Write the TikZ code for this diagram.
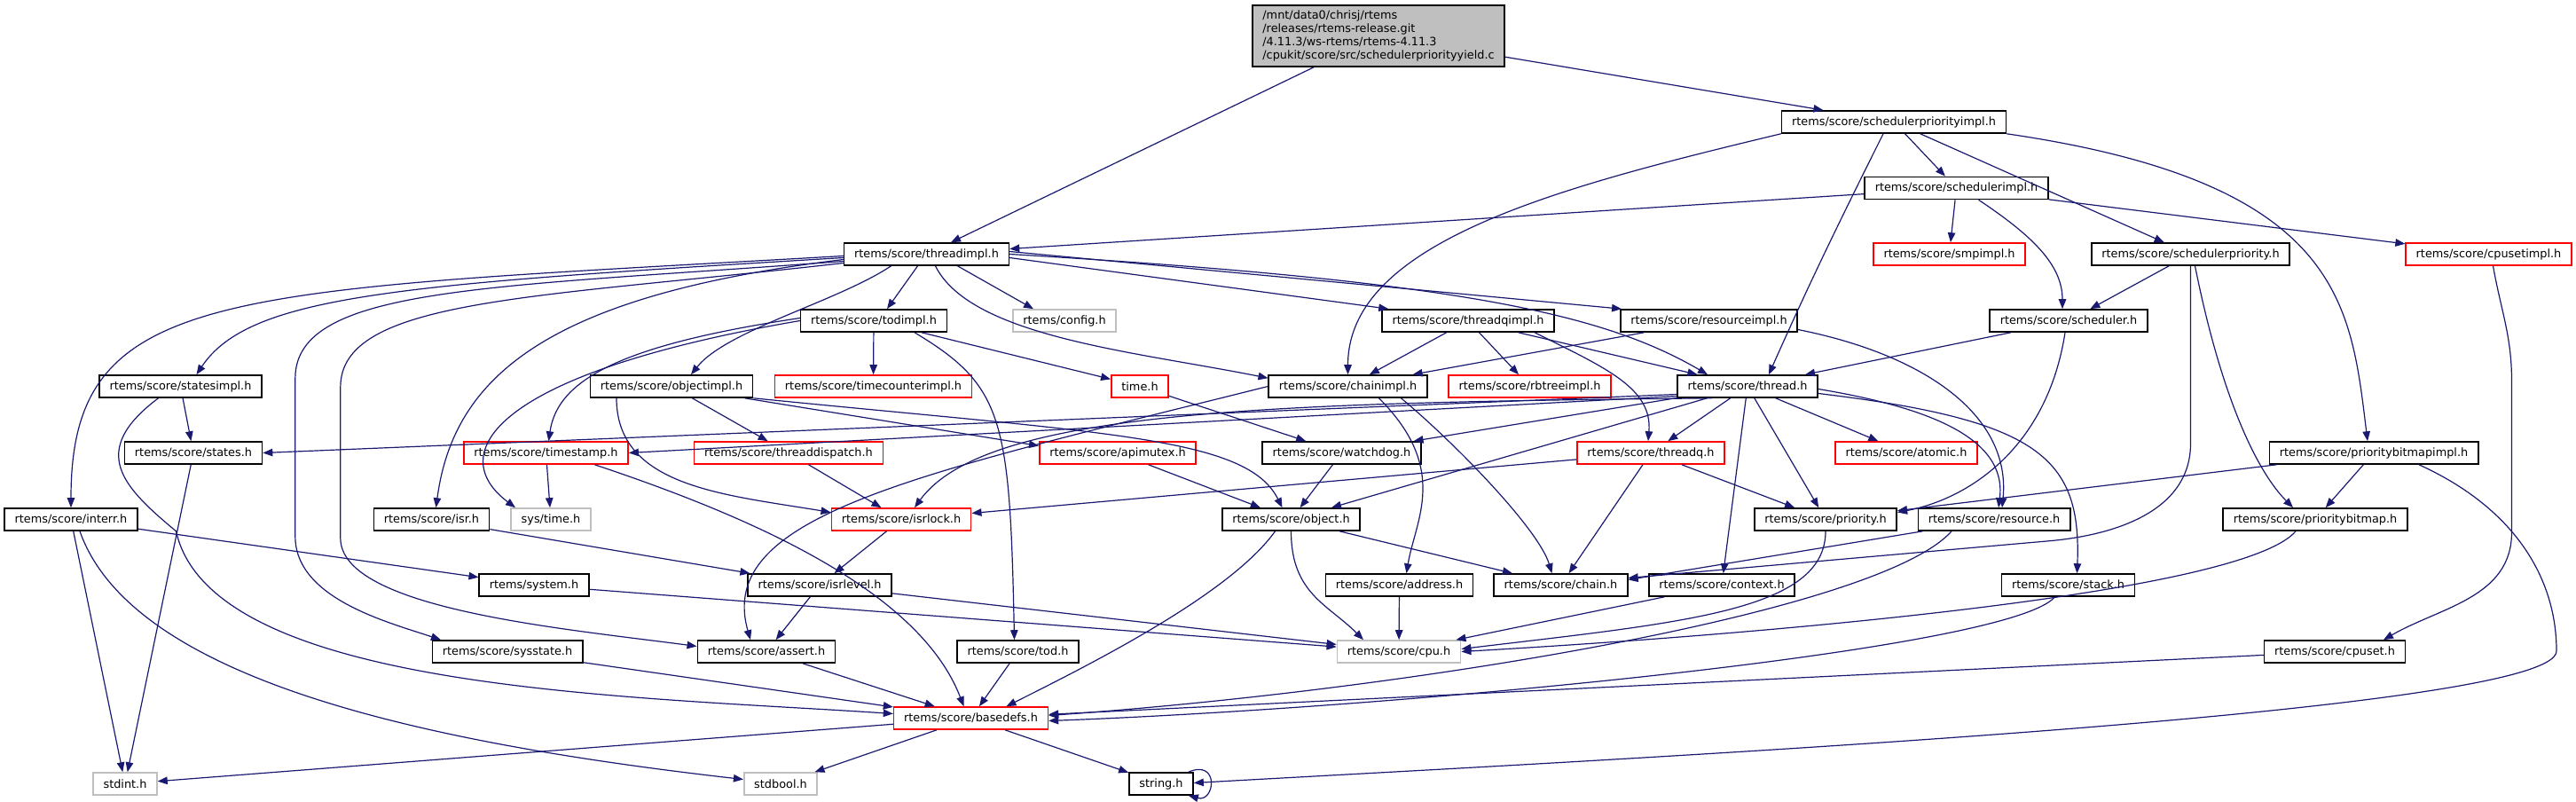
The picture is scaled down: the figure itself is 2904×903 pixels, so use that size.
\documentclass[tikz,border=0pt]{standalone}
\usepackage{fontspec}
\setmainfont{DejaVu Sans}
\usetikzlibrary{arrows.meta}
\definecolor{edgeblue}{HTML}{191970}
\definecolor{extgray}{HTML}{BFBFBF}
\definecolor{srcgray}{HTML}{BFBFBF}
\tikzstyle{file} = [rectangle, draw=black, line width=1.6pt, fill=white,
    inner xsep=11.5pt, inner ysep=0pt, minimum height=25pt,
    font=\fontsize{12.85}{15}\selectfont]
\tikzstyle{redfile} = [file, draw=red]
\tikzstyle{extfile} = [file, draw=extgray]
\tikzstyle{srcfile} = [file, fill=srcgray, align=left, minimum height=69pt]
\tikzstyle{line} = [draw=edgeblue, line width=1.2pt, -{Triangle[length=11pt, width=8.5pt]}]

\begin{document}
\begin{tikzpicture}[x=1pt, y=1pt]
    \useasboundingbox (0,0) rectangle (2904,903);
    % Place nodes
    \node [srcfile] (src) at (1554,862.5) {/mnt/data0/chrisj/rtems\\/releases/rtems-release.git\\/4.11.3/ws-rtems/rtems-4.11.3\\/cpukit/score/src/schedulerpriorityyield.c};
    \node [file] (schedprioimpl) at (2135,765.5) {rtems/score/schedulerpriorityimpl.h};
    \node [file] (schedimpl) at (2205.5,691) {rtems/score/schedulerimpl.h};
    \node [file] (threadimpl) at (1044.5,616.5) {rtems/score/threadimpl.h};
    \node [redfile] (smpimpl) at (2197.5,616.5) {rtems/score/smpimpl.h};
    \node [file] (schedprio) at (2469.5,616.5) {rtems/score/schedulerpriority.h};
    \node [redfile] (cpusetimpl) at (2805.5,616.5) {rtems/score/cpusetimpl.h};
    \node [file] (todimpl) at (985,541.5) {rtems/score/todimpl.h};
    \node [extfile] (config) at (1200,541.5) {rtems/config.h};
    \node [file] (threadqimpl) at (1655,541.5) {rtems/score/threadqimpl.h};
    \node [file] (resourceimpl) at (1926.5,541.5) {rtems/score/resourceimpl.h};
    \node [file] (scheduler) at (2332,541.5) {rtems/score/scheduler.h};
    \node [file] (statesimpl) at (203.5,467.5) {rtems/score/statesimpl.h};
    \node [file] (objectimpl) at (757,467.5) {rtems/score/objectimpl.h};
    \node [redfile] (timecounterimpl) at (984.5,467.5) {rtems/score/timecounterimpl.h};
    \node [redfile] (timeh) at (1285,467.5) {time.h};
    \node [file] (chainimpl) at (1519.5,467.5) {rtems/score/chainimpl.h};
    \node [redfile] (rbtreeimpl) at (1724.5,467.5) {rtems/score/rbtreeimpl.h};
    \node [file] (thread) at (1970,467.5) {rtems/score/thread.h};
    \node [file] (states) at (218,392.5) {rtems/score/states.h};
    \node [redfile] (timestamp) at (615.5,392.5) {rtems/score/timestamp.h};
    \node [redfile] (threaddispatch) at (889,392.5) {rtems/score/threaddispatch.h};
    \node [redfile] (apimutex) at (1260,392.5) {rtems/score/apimutex.h};
    \node [file] (watchdog) at (1512.5,392.5) {rtems/score/watchdog.h};
    \node [redfile] (threadq) at (1861,392.5) {rtems/score/threadq.h};
    \node [redfile] (atomic) at (2149,392.5) {rtems/score/atomic.h};
    \node [file] (pbmimpl) at (2676,392.5) {rtems/score/prioritybitmapimpl.h};
    \node [file] (interr) at (80,317.5) {rtems/score/interr.h};
    \node [file] (isr) at (486.5,317.5) {rtems/score/isr.h};
    \node [extfile] (systime) at (621,317.5) {sys/time.h};
    \node [redfile] (isrlock) at (1016,317.5) {rtems/score/isrlock.h};
    \node [file] (object) at (1455.5,317.5) {rtems/score/object.h};
    \node [file] (priority) at (2058,317.5) {rtems/score/priority.h};
    \node [file] (resource) at (2248,317.5) {rtems/score/resource.h};
    \node [file] (pbm) at (2610,317.5) {rtems/score/prioritybitmap.h};
    \node [file] (system) at (602,243.5) {rtems/system.h};
    \node [file] (isrlevel) at (924,243.5) {rtems/score/isrlevel.h};
    \node [file] (address) at (1577.5,243.5) {rtems/score/address.h};
    \node [file] (chain) at (1759.5,243.5) {rtems/score/chain.h};
    \node [file] (context) at (1941,243.5) {rtems/score/context.h};
    \node [file] (stack) at (2331.5,243.5) {rtems/score/stack.h};
    \node [file] (sysstate) at (572,168.5) {rtems/score/sysstate.h};
    \node [file] (assert) at (864,168.5) {rtems/score/assert.h};
    \node [file] (tod) at (1147.5,168.5) {rtems/score/tod.h};
    \node [extfile] (cpu) at (1577,168.5) {rtems/score/cpu.h};
    \node [file] (cpuset) at (2632,168.5) {rtems/score/cpuset.h};
    \node [redfile] (basedefs) at (1094.5,93.5) {rtems/score/basedefs.h};
    \node [extfile] (stdint) at (141,19.5) {stdint.h};
    \node [extfile] (stdbool) at (880,19.5) {stdbool.h};
    \node [file] (string) at (1309,19.5) {string.h};
    % Draw edges
    \path [line] (src) -- (threadimpl);
    \path [line] (src) -- (schedprioimpl);
    \path [line] (schedprioimpl.south west) .. controls +(-250,-60) and +(0,150) .. (chainimpl.north);
    \path [line] (schedprioimpl) -- (schedimpl);
    \path [line] (schedprioimpl) -- (schedprio);
    \path [line] ([xshift=-12pt]schedprioimpl.south) .. controls +(-60,-120) and +(40,90) .. ([xshift=24pt]thread.north);
    \path [line] (schedprioimpl.south east) .. controls +(378,-55) and +(-19,155) .. ([xshift=-7pt]pbmimpl.north);
    \path [line] (schedimpl) -- (threadimpl);
    \path [line] (schedimpl) -- (smpimpl);
    \path [line] (schedimpl) -- (cpusetimpl);
    \path [line] ([xshift=25pt]schedimpl.south) .. controls +(60,-40) and +(0,50) .. ([xshift=-7pt]scheduler.north);
    \path [line] (schedprio) -- (scheduler);
    \path [line] ([xshift=5pt]schedprio.south) .. controls +(30,-150) and +(-40,40) .. ([xshift=-25pt]pbm.north);
    \path [line] (schedprio.south) -- ++(0,-200) to[out=-90,in=5] ++(-160,-110) -- ([yshift=8pt]chain.east);
    \path [line] ([xshift=5pt]cpusetimpl.south) to[out=-80,in=90] ++(21,-130) -- ++(0,-170) to[out=-90,in=30] ([xshift=55pt]cpuset.north);
    \path [line] (scheduler) -- (thread);
    \path [line] ([xshift=-4pt]scheduler.south) .. controls +(-20,-130) and +(80,15) .. ([yshift=8pt]priority.east);
    \path [line] (pbmimpl) -- (pbm);
    \path [line] (pbmimpl) -- (priority);
    \path [line] ([xshift=51pt]pbmimpl.south) .. controls +(110,-50) and +(0,80) .. ++(155,-210) .. controls +(0,-70) and +(500,28) .. ([yshift=1pt]string.east);
    \path [line] ([xshift=-22pt]pbm.south) .. controls +(-60,-70) and +(350,20) .. (cpu.east);
    \path [line] (cpuset) -- (basedefs);
    \path [line] ([xshift=-15pt]stack.south) .. controls +(-50,-60) and +(400,15) .. ([yshift=-3pt]basedefs.east);
    \path [line] (resource) -- ([yshift=6pt]chain.east);
    \path [line] ([xshift=-48pt]resource.south) .. controls +(-80,-90) and +(420,30) .. ([yshift=3pt]basedefs.east);
    \path [line] (context) -- (cpu);
    \path [line] (priority.south) .. controls +(0,-90) and +(250,30) .. ([yshift=3pt]cpu.east);
    \path [line] (threadq) -- (chain);
    \path [line] (threadq) -- (priority);
    \path [line] (threadq) -- (isrlock);
    \path [line] ([yshift=-9pt]thread.west) -- (states.east);
    \path [line] ([yshift=-11pt]thread.west) -- (timestamp.east);
    \path [line] ([xshift=-40pt]thread.south) .. controls +(-500,-5) and +(80,110) .. ([xshift=15pt]isrlock.north);
    \path [line] (thread) -- (watchdog);
    \path [line] (thread) -- (object);
    \path [line] (thread) -- (threadq);
    \path [line] (thread) -- (atomic);
    \path [line] (thread) -- (priority);
    \path [line] ([yshift=-3pt]thread.east) .. controls +(120,-20) and +(10,80) .. ([xshift=5pt]resource.north);
    \path [line] (thread) -- (context);
    \path [line] ([yshift=-8pt]thread.east) .. controls +(250,-30) and +(5,130) .. ([xshift=10pt]stack.north);
    \path [line] (threadqimpl) -- (chainimpl);
    \path [line] (threadqimpl) -- (rbtreeimpl);
    \path [line] (threadqimpl) -- (thread);
    \path [line] ([xshift=75pt]threadqimpl.south) .. controls +(80,-40) and +(5,60) .. ([xshift=-3pt]threadq.north);
    \path [line] (resourceimpl) -- (chainimpl);
    \path [line] ([yshift=-10pt]resourceimpl.east) .. controls +(150,-30) and +(10,100) .. ([xshift=9pt]resource.north);
    \path [line] ([yshift=-4pt]threadimpl.west) .. controls +(-500,-30) and +(60,90) .. ([xshift=18pt]statesimpl.north);
    \path [line] ([yshift=-2pt]threadimpl.west) .. controls +(-700,-40) and +(0,250) .. (interr.north);
    \path [line] ([yshift=-6pt]threadimpl.west) .. controls +(-330,-40) and +(20,150) .. ([xshift=5pt]isr.north);
    \path [line] ([yshift=-8pt]threadimpl.west) .. controls +(-400,-30) and +(0,104) .. ++(-618,-132) -- ++(0,-178) .. controls +(0,-70) and +(-60,20) .. ([xshift=-75pt]sysstate.north);
    \path [line] ([yshift=-10pt]threadimpl.west) .. controls +(-350,-40) and +(0,100) .. ++(-567,-140) -- ++(0,-170) .. controls +(0,-80) and +(-150,20) .. ([yshift=6pt]assert.west);
    \path [line] ([xshift=-40pt]threadimpl.south) .. controls +(-60,-40) and +(40,50) .. ([xshift=22pt]objectimpl.north);
    \path [line] ([xshift=-10pt]threadimpl.south) -- ([xshift=15pt]todimpl.north);
    \path [line] ([xshift=10pt]threadimpl.south) .. controls +(40,-80) and +(-150,30) .. ([yshift=-4pt]chainimpl.north west);
    \path [line] ([xshift=35pt]threadimpl.south) -- ([xshift=-35pt]config.north);
    \path [line] ([yshift=-4pt]threadimpl.east) -- ([xshift=8pt]threadqimpl.north west);
    \path [line] ([yshift=3pt]threadimpl.east) -- ([xshift=2pt]resourceimpl.north west);
    \path [line] (threadimpl.east) .. controls +(500,-30) and +(-120,70) .. ([xshift=-45pt]thread.north);
    \path [line] (todimpl) -- (timecounterimpl);
    \path [line] (todimpl) -- (timeh);
    \path [line] ([xshift=46pt]todimpl.south) .. controls +(100,-60) and +(-5,250) .. ([xshift=-4pt]tod.north);
    \path [line] ([yshift=3pt]todimpl.west) .. controls +(-200,-30) and +(10,70) .. ([xshift=3pt]timestamp.north);
    \path [line] (todimpl.west) .. controls +(-350,-60) and +(-80,60) .. ([xshift=-40pt]systime.north);
    \path [line] (objectimpl) -- (threaddispatch);
    \path [line] ([xshift=-10pt]objectimpl.south east) -- ([yshift=8pt]apimutex.west);
    \path [line] ([xshift=-62pt]objectimpl.south) .. controls +(0,-100) and +(-120,20) .. ([yshift=8pt]isrlock.west);
    \path [line] (objectimpl.south east) .. controls +(400,-40) and +(-40,80) .. ([xshift=-10pt]object.north);
    \path [line] (threaddispatch) -- (isrlock);
    \path [line] (apimutex) -- (object);
    \path [line] (timeh) -- (watchdog);
    \path [line] (watchdog) -- (object);
    \path [line] (object) -- (chain);
    \path [line] (object.south) .. controls +(0,-70) and +(-40,40) .. ([xshift=-40pt]cpu.north);
    \path [line] ([xshift=-18pt]object.south) .. controls +(-50,-70) and +(100,50) .. ([xshift=40pt]basedefs.north);
    \path [line] ([xshift=60pt]chainimpl.south) .. controls +(60,-50) and +(-15,50) .. ([xshift=-10pt]chain.north);
    \path [line] ([xshift=35pt]chainimpl.south) .. controls +(80,-80) and +(10,60) .. ([xshift=8pt]address.north);
    \path [line] (chainimpl.west) .. controls +(-400,-100) and +(-40,140) .. ([xshift=-18pt]assert.north);
    \path [line] (address) -- (cpu);
    \path [line] (isrlock) -- (isrlevel);
    \path [line] (isrlevel) -- (assert);
    \path [line] (isrlevel) -- (cpu);
    \path [line] (isr) -- (isrlevel);
    \path [line] (interr) -- (system);
    \path [line] (interr) -- (stdint);
    \path [line] ([xshift=10pt]interr.south) .. controls +(60,-170) and +(-350,40) .. ([yshift=5pt]stdbool.west);
    \path [line] (system) -- (cpu);
    \path [line] (states) -- (stdint);
    \path [line] (statesimpl) -- (states);
    \path [line] ([xshift=-25pt]statesimpl.south) .. controls +(-80,-60) and +(-60,50) .. ++(20,-150) .. controls +(40,-180) and +(-300,20) .. ([yshift=5pt]basedefs.west);
    \path [line] (timestamp) -- (systime);
    \path [line] ([xshift=55pt]timestamp.south) .. controls +(180,-60) and +(-50,130) .. ([xshift=-8pt]basedefs.north);
    \path [line] (sysstate) -- (basedefs);
    \path [line] (assert) -- (basedefs);
    \path [line] (tod) -- (basedefs);
    \path [line] (basedefs) -- (stdint);
    \path [line] (basedefs) -- (stdbool);
    \path [line] (basedefs) -- (string);
    \path [line] ([xshift=-6pt]string.north east) .. controls +(35,15) and +(30,-8) .. ([xshift=-6pt]string.south east);
\end{tikzpicture}
\end{document}
